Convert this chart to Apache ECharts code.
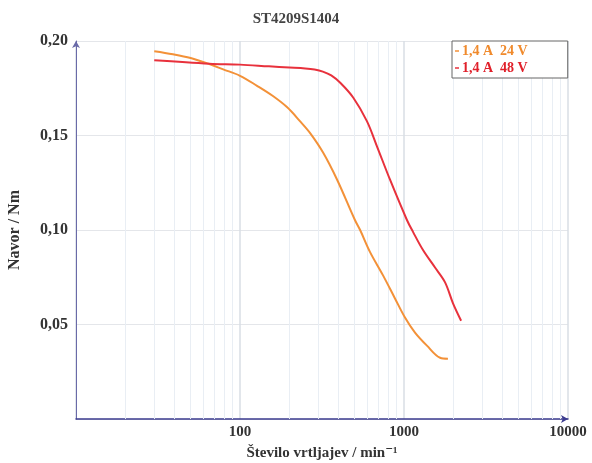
<!DOCTYPE html>
<html>
<head>
<meta charset="utf-8">
<script src="https://cdn.jsdelivr.net/npm/echarts@6/dist/echarts.min.js"></script>
<style>html,body{margin:0;padding:0;background:#fff;}#c{width:592px;height:463px;}</style>
</head>
<body>
<div id="c"></div>
<script>
var titleText = 'ST4209S1404';
var seriesNames = ['1,4 A  24 V', '1,4 A  48 V'];
var speed24 = [30, 39, 50, 65, 79, 100, 127, 158, 194, 232, 267, 321, 391, 502, 540, 621, 745, 881, 1014, 1167, 1380, 1660, 1853];
var torque24 = [0.1946, 0.193, 0.191, 0.1878, 0.185, 0.1816, 0.1763, 0.171, 0.1649, 0.1576, 0.1514, 0.141, 0.1266, 0.1053, 0.100, 0.0883, 0.076, 0.0638, 0.0537, 0.0457, 0.0388, 0.0324, 0.0319];
var speed48 = [30, 65, 100, 150, 200, 250, 285, 320, 360, 410, 491, 594, 684, 822, 1042, 1135, 1306, 1550, 1780, 1990, 2230];
var torque48 = [0.1898, 0.188, 0.1875, 0.1866, 0.186, 0.1855, 0.1849, 0.1838, 0.1818, 0.1778, 0.170, 0.1576, 0.1443, 0.1266, 0.1053, 0.099, 0.0894, 0.080, 0.0723, 0.0612, 0.052];
var minorGridX = [20, 30, 40, 50, 60, 70, 80, 90, 200, 300, 400, 500, 600, 700, 800, 900, 2000, 3000, 4000, 5000, 6000, 7000, 8000, 9000];
var xMin = 10, xMax = 10000;
var yMin = 0, yMax = 0.2, yStep = 0.05;

function zip(a, b) { return a.map(function (v, i) { return [v, b[i]]; }); }
var FONT = '"Liberation Serif", "DejaVu Serif", serif';
var colors = ['#f39138', '#e8313c'];

var chart = echarts.init(document.getElementById('c'));
chart.setOption({
  animation: false,
  backgroundColor: '#fff',
  title: {
    text: titleText, left: 'center', top: 7,
    textStyle: { fontFamily: FONT, fontWeight: 'bold', fontSize: 15, color: '#444' }
  },
  legend: {
    orient: 'vertical', left: 452, top: 41,
    padding: [3, 40, 3, 3], itemGap: 3,
    borderColor: '#666', borderWidth: 1, backgroundColor: '#fff',
    icon: 'rect', itemWidth: 4, itemHeight: 1.5,
    data: [
      { name: seriesNames[0], textStyle: { color: '#f08a2c' } },
      { name: seriesNames[1], textStyle: { color: '#e0202a' } }
    ],
    textStyle: { fontFamily: FONT, fontWeight: 'bold', fontSize: 14, padding: [0, 0, 0, -2] }
  },
  grid: { left: 76, right: 24, top: 41, bottom: 44, outerBoundsMode: 'none', containLabel: false },
  xAxis: {
    type: 'log', logBase: 10, min: xMin, max: xMax,
    name: 'Število vrtljajev / min\u207B\u00B9', nameLocation: 'middle', nameGap: 27,
    nameTextStyle: { fontFamily: FONT, fontWeight: 'bold', fontSize: 15, color: '#333' },
    axisLine: { show: true, lineStyle: { color: '#3b3b8f', width: 1.5 }, symbol: ['none', 'arrow'], symbolSize: [6, 7] },
    axisTick: { show: false },
    axisLabel: {
      fontFamily: FONT, fontWeight: 'bold', fontSize: 15, color: '#333', margin: 6,
      formatter: function (v) { return v <= xMin ? '' : String(Math.round(v)); }
    },
    splitLine: { show: true, lineStyle: { color: '#d9dee4', width: 1.5 } }
  },
  yAxis: {
    type: 'value', min: yMin, max: yMax, interval: yStep,
    name: 'Navor / Nm', nameLocation: 'middle', nameGap: 53,
    nameTextStyle: { fontFamily: FONT, fontWeight: 'bold', fontSize: 16, color: '#333' },
    axisLine: { show: true, lineStyle: { color: '#6a6aa8', width: 1 }, symbol: ['none', 'arrow'], symbolSize: [6, 7] },
    axisTick: { show: false },
    axisLabel: {
      fontFamily: FONT, fontWeight: 'bold', fontSize: 16, color: '#333', margin: 8,
      formatter: function (v) { return v === 0 ? '' : v.toFixed(2).replace('.', ','); }
    },
    splitLine: { show: true, lineStyle: { color: '#e4e6ea', width: 1 } }
  },
  series: [
    {
      name: seriesNames[0], type: 'line', data: zip(speed24, torque24),
      showSymbol: false, symbol: 'none', smooth: 0.35, color: colors[0],
      lineStyle: { width: 2, color: colors[0] }, z: 3,
      markLine: {
        silent: true, symbol: 'none', label: { show: false },
        lineStyle: { color: '#e9eef4', width: 1, type: 'solid' },
        data: minorGridX.map(function (v) { return { xAxis: v }; }),
        z: 1
      }
    },
    {
      name: seriesNames[1], type: 'line', data: zip(speed48, torque48),
      showSymbol: false, symbol: 'none', smooth: 0.35, color: colors[1],
      lineStyle: { width: 2, color: colors[1] }, z: 4
    }
  ]
});
</script>
</body>
</html>
